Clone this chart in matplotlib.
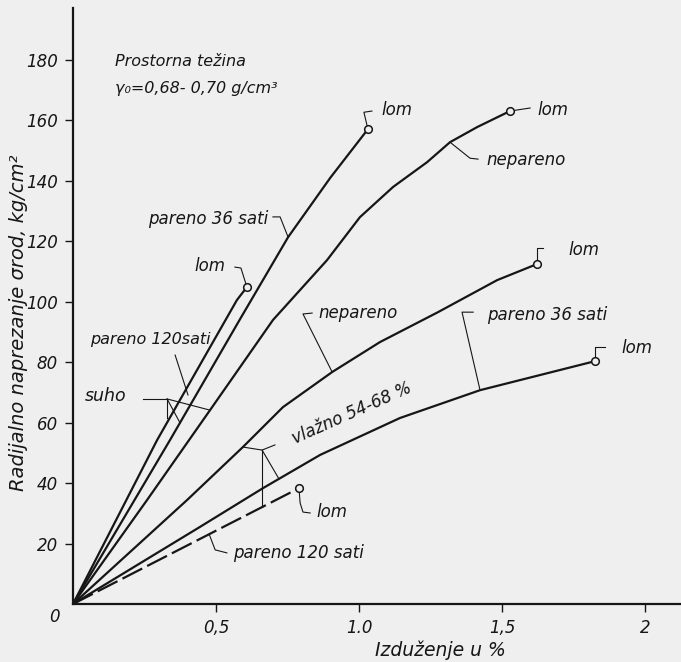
import numpy as np
import matplotlib.pyplot as plt

# suho (dry) specimens
suho_120_x = [0, 0.294, 0.573, 0.608]
suho_120_y = [0, 54.2, 100.5, 104.8]
suho_36_x = [0, 0.339, 0.584, 0.752, 0.900, 1.031]
suho_36_y = [0, 54.2, 94.2, 121.3, 141.0, 157.0]
suho_nep_x = [0, 0.259, 0.479, 0.699, 0.888, 1.003, 1.119, 1.238, 1.318, 1.413, 1.528]
suho_nep_y = [0, 34.4, 64.1, 93.9, 113.7, 127.9, 137.9, 146.1, 152.7, 157.7, 163.0]

# vlazno 54-68 % specimens
vl_nep_x = [0, 0.399, 0.594, 0.734, 0.906, 1.073, 1.276, 1.483, 1.622]
vl_nep_y = [0, 34.4, 51.9, 65.1, 76.7, 86.6, 96.5, 107.1, 112.4]
vl_36_x = [0, 0.444, 0.664, 0.864, 1.143, 1.423, 1.825]
vl_36_y = [0, 25.5, 38.3, 49.3, 61.5, 70.7, 80.3]
vl_120_x = [0, 0.790]
vl_120_y = [0, 38.3]

x_ticks = [0.5, 1.0, 1.5, 2.0]
x_tick_labels = ["0,5", "1.0", "1,5", "2"]
y_ticks = [20, 40, 60, 80, 100, 120, 140, 160, 180]

bg = "#efefef"
ink = "#161616"
plt.rcParams["font.family"] = ["DejaVu Sans"]
plt.rcParams["font.style"] = "italic"

fig = plt.figure(figsize=(6.81, 6.62), dpi=100, facecolor=bg)
ax = fig.add_axes([0.1072, 0.0876, 0.893, 0.900], facecolor=bg)
ax.set_xlim(0, 2.126)
ax.set_ylim(0, 197)

for s in ["top", "right"]:
    ax.spines[s].set_visible(False)
for s in ["left", "bottom"]:
    ax.spines[s].set_linewidth(1.6)
    ax.spines[s].set_color(ink)

ax.set_xticks(x_ticks)
ax.set_xticklabels(x_tick_labels)
ax.set_yticks(y_ticks)
ax.tick_params(axis="both", direction="out", length=6, width=1, color=ink,
               labelsize=12, labelcolor=ink)
ax.tick_params(axis="x", pad=5)
ax.tick_params(axis="y", pad=5)

solid = [(suho_120_x, suho_120_y), (suho_36_x, suho_36_y), (suho_nep_x, suho_nep_y),
         (vl_nep_x, vl_nep_y), (vl_36_x, vl_36_y)]
for cx, cy in solid:
    ax.plot(cx, cy, color=ink, lw=1.6, solid_capstyle="round", solid_joinstyle="round")
ax.plot(vl_120_x, vl_120_y, color=ink, lw=1.6, dashes=(10, 2.5))

# break points (lom)
for cx, cy in solid + [(vl_120_x, vl_120_y)]:
    ax.plot(cx[-1], cy[-1], "o", ms=5.5, mfc=bg, mec=ink, mew=1.1, zorder=5)


def on(cx, cy, x):
    return float(np.interp(x, cx, cy))


def leader(*pts):
    xs, ys = zip(*pts)
    ax.plot(xs, ys, color=ink, lw=0.8)


def label(x, y, s, size=12, **kw):
    ax.text(x, y, s, fontsize=size, color=ink, va="center", **kw)


# "lom" callouts
e = (suho_120_x[-1], suho_120_y[-1])
leader(e, (0.587, 111.1), (0.566, 111.4))
label(0.479, 111.6, "lom", ha="center")

e = (suho_36_x[-1], suho_36_y[-1])
leader(e, (1.017, 162.6), (1.045, 163.0))
label(1.133, 163.2, "lom", ha="center")

e = (suho_nep_x[-1], suho_nep_y[-1])
leader(e, (1.598, 164.0))
label(1.678, 163.5, "lom", ha="center")

e = (vl_nep_x[-1], vl_nep_y[-1])
leader(e, (1.622, 117.7), (1.642, 117.7))
label(1.787, 117.0, "lom", ha="center")

e = (vl_36_x[-1], vl_36_y[-1])
leader(e, (1.825, 85.0), (1.860, 85.0))
label(1.972, 84.5, "lom", ha="center")

e = (vl_120_x[-1], vl_120_y[-1])
leader(e, (0.794, 33.4), (0.804, 30.4), (0.829, 30.1))
label(0.906, 30.4, "lom", ha="center")

# curve names
leader((1.318, on(suho_nep_x, suho_nep_y, 1.318)), (1.388, 147.4), (1.416, 147.1))
label(1.447, 146.8, "nepareno", ha="left")

leader((0.752, on(suho_36_x, suho_36_y, 0.752)), (0.724, 128.0), (0.699, 128.0))
label(0.262, 127.3, "pareno 36 sati", ha="left")

leader((0.402, on(suho_120_x, suho_120_y, 0.402) - 3), (0.357, 82.3))
label(0.059, 87.3, "pareno 120sati", size=11.5, ha="left")

leader((0.245, 67.8), (0.329, 67.8))
leader((0.329, 67.8), (0.329, 61.5))
leader((0.329, 67.8), (0.374, on(suho_36_x, suho_36_y, 0.374)))
leader((0.329, 67.8), (0.479, on(suho_nep_x, suho_nep_y, 0.479)))
label(0.042, 68.8, "suho", size=12.5, ha="left")

leader((0.906, on(vl_nep_x, vl_nep_y, 0.906)), (0.804, 95.9), (0.836, 96.2))
label(0.857, 96.3, "nepareno", ha="left")

leader((0.594, on(vl_nep_x, vl_nep_y, 0.594)), (0.661, 50.9), (0.706, 52.6))
leader((0.661, 50.9), (0.661, on(vl_120_x, vl_120_y, 0.661)))
leader((0.661, 50.9), (0.720, on(vl_36_x, vl_36_y, 0.720)))
label(0.975, 63.0, "vlažno 54-68 %", size=12, ha="center", rotation=24,
      rotation_mode="anchor")

leader((1.423, on(vl_36_x, vl_36_y, 1.423)), (1.360, 96.5), (1.399, 96.5))
label(1.448, 95.7, "pareno 36 sati", size=12, ha="left")

leader((0.476, on(vl_120_x, vl_120_y, 0.476)), (0.497, 17.9), (0.538, 16.9))
label(0.559, 16.9, "pareno 120 sati", size=12, ha="left")

# header
label(0.147, 179.5, "Prostorna težina", size=11.5, ha="left")
label(0.147, 170.6, "γ₀=0,68- 0,70 g/cm³", size=11.5, ha="left")

# axis titles
ax.text(-0.063, -4.3, "0", fontsize=12, color=ink, ha="center", va="center",
        clip_on=False)
ax.text(1.283, -12.2, "Izduženje u %", fontsize=13.5, color=ink, ha="center",
        va="top", clip_on=False)
ax.text(-0.189, 93, "Radijalno naprezanje σrod, kg/cm²", fontsize=14, color=ink,
        ha="center", va="center", rotation=90, clip_on=False)

fig.savefig("out.png", dpi=100, facecolor=bg)
